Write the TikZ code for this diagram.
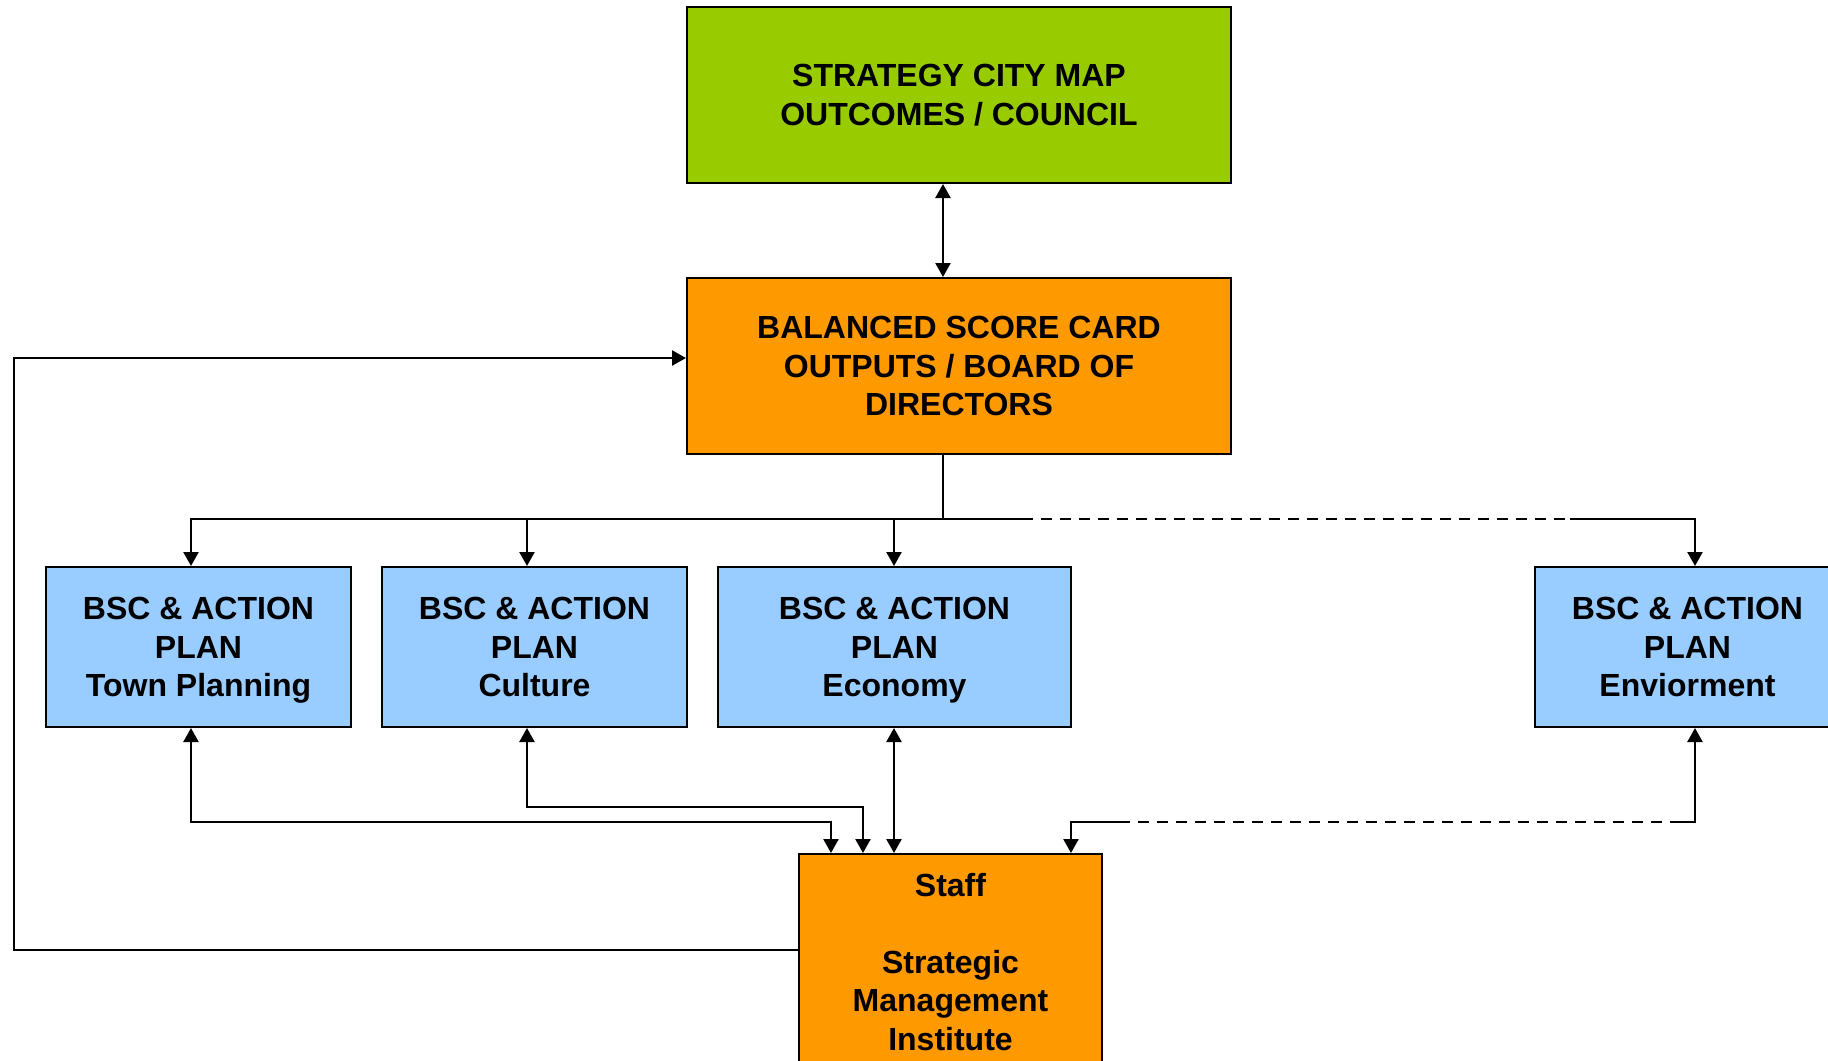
\documentclass[tikz,border=0pt]{standalone}
\usepackage{fontspec}
\setmainfont{Liberation Sans}
\usetikzlibrary{arrows.meta}
\definecolor{mapgreen}{HTML}{99CC00}
\definecolor{cardorange}{HTML}{FF9900}
\definecolor{planblue}{HTML}{99CCFF}
\begin{document}
\begin{tikzpicture}[x=0.5pt,y=-0.5pt,
  box/.style={draw=black, line width=1pt, inner sep=0pt, align=center,
    font=\bfseries\fontsize{16pt}{19.25pt}\selectfont},
  planbox/.style={box, fill=planblue, minimum width=152.5pt, minimum height=80pt},
  link/.style={line width=1.2pt, black},
  gap/.style={link, dash pattern=on 5.5pt off 4pt},
  >={Triangle[length=7pt,width=7.5pt]}]
\useasboundingbox (0,0) rectangle (1828,1061);
\fill[white] (0,0) rectangle (1828,1061);
\clip (0,0) rectangle (1828,1061);

% boxes
\node[box, fill=mapgreen, minimum width=272pt, minimum height=88pt] (city) at (959,95)
  {STRATEGY CITY MAP\\OUTCOMES / COUNCIL};
\node[box, fill=cardorange, minimum width=272pt, minimum height=88pt] (bsc) at (959,366)
  {BALANCED SCORE CARD\\OUTPUTS / BOARD OF\\DIRECTORS};
\node[planbox] (town) at (198.5,647) {BSC \& ACTION\\PLAN\\\smash{Town Planning}};
\node[planbox] (cult) at (534.5,647) {BSC \& ACTION\\PLAN\\Culture};
\node[planbox, minimum width=176.5pt] (econ) at (894.5,647) {BSC \& ACTION\\PLAN\\\smash{Economy}};
\node[planbox] (env) at (1687.5,647) {BSC \& ACTION\\PLAN\\Enviorment};
\node[box, fill=cardorange, minimum width=151.5pt, minimum height=120pt] (staff) at (950.5,974) {};
\node[box, draw=none, anchor=north] (stafftext) at (950.5,872)
  {Staff\\[19.25pt]Strategic\\Management\\Institute};

% column positions of the connectors
\coordinate (bus) at (943,519);
\coordinate (tcol) at (191,0);
\coordinate (ccol) at (527,0);
\coordinate (ecol) at (894,0);
\coordinate (vcol) at (1695,0);

% council <-> board
\draw[link,<->] (city.south -| bus) -- (bsc.north -| bus);

% board down to the plans
\draw[link] (bsc.south -| bus) -- (bus);
\draw[link,->] (bus) -| (town.north -| tcol);
\draw[link,->] (bus) -| (cult.north -| ccol);
\draw[link,->] (bus) -| (econ.north -| ecol);
\coordinate (dashA) at (1022,519);
\coordinate (dashB) at (1570,519);
\draw[link] (bus) -- (dashA);
\draw[gap] (dashA) -- (dashB);
\draw[link,->] (dashB) -| (env.north -| vcol);

% plans <-> staff
\coordinate (tin) at (831,822);
\coordinate (cin) at (863,807);
\draw[link,<->] (town.south -| tcol) |- (tin) -- (staff.north -| tin);
\draw[link,<->] (cult.south -| ccol) |- (cin) -- (staff.north -| cin);
\draw[link,<->] (econ.south -| ecol) -- (staff.north -| ecol);
\coordinate (vin) at (1071,822);
\coordinate (dashC) at (1119,822);
\coordinate (dashD) at (1673,822);
\draw[link,->] (dashC) -| (staff.north -| vin);
\draw[gap] (dashC) -- (dashD);
\draw[link,->] (dashD) -| (env.south -| vcol);

% staff feedback loop to the board
\coordinate (loopA) at (14,950);
\coordinate (loopB) at (14,358);
\draw[link,->] (staff.west |- loopA) -- (loopA) -- (loopB) -- (bsc.west |- loopB);
\end{tikzpicture}
\end{document}
